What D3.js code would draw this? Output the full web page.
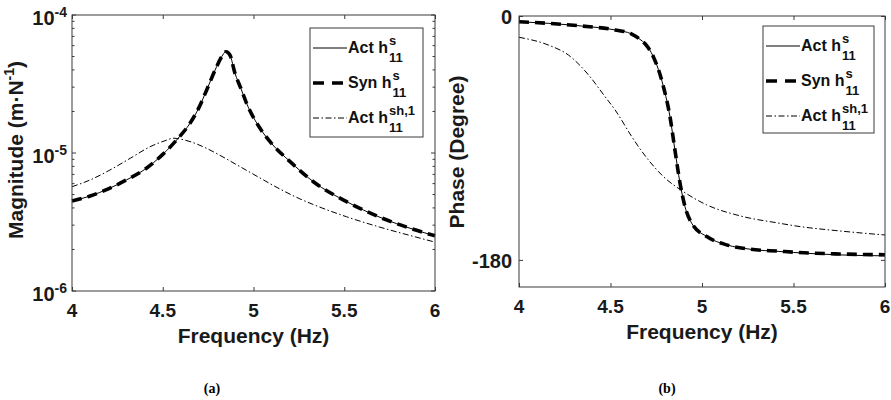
<!DOCTYPE html>
<html><head><meta charset="utf-8">
<script src="https://cdn.jsdelivr.net/npm/d3@7"></script>
<style>
html,body{margin:0;padding:0;background:#fff;}
svg{display:block;font-family:"Liberation Sans",Arial,Helvetica,sans-serif;font-weight:bold;}
</style></head>
<body>
<svg id="chart" width="891" height="400"></svg>
<script>
// ---------- DATA ----------
const xTicks = [4, 4.5, 5, 5.5, 6];
const magTicks = [1e-6, 1e-5, 1e-4];
const magTickExp = ["-6", "-5", "-4"];
const phaseTicks = [-180, 0];

const freqMagAct = [4.00,4.10,4.20,4.30,4.40,4.50,4.585,4.65,4.70,4.742,4.797,4.825,4.848,4.87,4.898,4.93,4.962,5.036,5.10,5.20,5.33,5.513,5.697,5.88,6.00];
const magAct = [4.49e-6,4.88e-6,5.5e-6,6.38e-6,7.59e-6,9.77e-6,1.28e-5,1.64e-5,2.14e-5,2.86e-5,4.23e-5,5.0e-5,5.42e-5,5.13e-5,3.78e-5,2.95e-5,2.29e-5,1.51e-5,1.17e-5,8.7e-6,6.19e-6,4.44e-6,3.42e-6,2.8e-6,2.51e-6];
const freqMagSyn = [4.00,4.10,4.20,4.30,4.40,4.50,4.585,4.65,4.70,4.742,4.797,4.825,4.848,4.87,4.898,4.93,4.962,5.036,5.10,5.20,5.33,5.513,5.697,5.88,6.00];
const magSyn = [4.49e-6,4.88e-6,5.5e-6,6.38e-6,7.59e-6,9.77e-6,1.28e-5,1.64e-5,2.14e-5,2.86e-5,4.23e-5,5.0e-5,5.42e-5,5.13e-5,3.78e-5,2.95e-5,2.29e-5,1.51e-5,1.17e-5,8.7e-6,6.19e-6,4.44e-6,3.42e-6,2.8e-6,2.51e-6];
const freqMagSh = [4.0,4.099,4.209,4.32,4.43,4.522,4.556,4.65,4.742,4.832,4.926,5.036,5.146,5.256,5.328,5.513,5.697,5.88,6.0];
const magSh = [5.70e-6,6.37e-6,7.53e-6,9.14e-6,1.11e-5,1.24e-5,1.28e-5,1.21e-5,1.08e-5,9.35e-6,7.96e-6,6.59e-6,5.48e-6,4.65e-6,4.24e-6,3.45e-6,2.90e-6,2.49e-6,2.26e-6];

const freqPhAct = [4.0,4.16,4.343,4.525,4.616,4.661,4.689,4.734,4.789,4.825,4.852,4.88,4.907,4.944,5.026,5.135,5.262,5.426,5.5,5.75,6.0];
const phAct = [-4.2,-5.4,-7.4,-10.3,-13.3,-17.2,-20.5,-30,-52,-74.3,-98.8,-123.4,-140.7,-153,-162.8,-168.9,-172.1,-173.8,-174.5,-176.3,-177];
const freqPhSyn = [4.0,4.16,4.343,4.525,4.616,4.661,4.689,4.734,4.789,4.825,4.852,4.88,4.907,4.944,5.026,5.135,5.262,5.426,5.5,5.75,6.0];
const phSyn = [-4.2,-5.4,-7.4,-10.3,-13.3,-17.2,-20.5,-30,-52,-74.3,-98.8,-123.4,-140.7,-153,-162.8,-168.9,-172.1,-173.6,-174.3,-175.6,-176.2];
const freqPhSh = [4.0,4.16,4.27,4.38,4.47,4.525,4.616,4.661,4.707,4.789,4.898,5.026,5.208,5.426,5.5,5.75,6.0];
const phSh = [-15.7,-21.4,-28.8,-43.5,-59.5,-69.3,-89,-98,-106.2,-118.5,-129.6,-139.4,-147.5,-153,-154.7,-158.6,-161.6];

const legendMain = ["Act h", "Syn h", "Act h"];
const legendSup = ["s", "s", "sh,1"];
const legendSub = ["11", "11", "11"];

// ---------- DRAW ----------
const svg = d3.select("#chart");
const axisColor = "#3a3a3a";
const styles = [
  {w:1, dash:null},
  {w:3.6, dash:"10,6"},
  {w:1, dash:"6,2.5,1.5,2.5"}
];

function zip(fs, vs){ return fs.map((f,i)=>({f, v: vs[i]})); }

function panel(opt){
  const {x, y, left, right, top, bottom} = opt;
  const g = svg.append("g");
  const line = d3.line().x(d=>x(d.f)).y(d=>y(d.v)).curve(d3.curveMonotoneX);
  opt.series.forEach((s,i)=>{
    g.append("path").datum(s).attr("d", line)
      .attr("fill","none").attr("stroke","#000")
      .attr("stroke-width", styles[i].w)
      .attr("stroke-dasharray", styles[i].dash)
      .attr("stroke-linejoin","round");
  });
  g.append("g").attr("transform",`translate(0,${bottom})`)
    .call(d3.axisBottom(x).tickValues(xTicks).tickSize(-4).tickFormat(""))
    .call(a=>a.select(".domain").remove())
    .selectAll("line").attr("stroke",axisColor);
  g.append("g").attr("transform",`translate(0,${top})`)
    .call(d3.axisTop(x).tickValues(xTicks).tickSize(-4).tickFormat(""))
    .call(a=>a.select(".domain").remove())
    .selectAll("line").attr("stroke",axisColor);
  g.selectAll(".xl").data(xTicks).enter().append("text")
    .attr("x", d=>x(d)).attr("y", bottom+26)
    .attr("text-anchor","middle").attr("font-size",19).attr("fill","#1a1a1a")
    .text(d=>d3.format("~g")(d));
  g.append("rect").attr("x",left).attr("y",top)
    .attr("width",right-left).attr("height",bottom-top)
    .attr("fill","none").attr("stroke",axisColor).attr("stroke-width",1);
  g.append("text").attr("x",(left+right)/2).attr("y",bottom+52)
    .attr("text-anchor","middle").attr("font-size",21).attr("fill","#1a1a1a")
    .text("Frequency (Hz)");
  return g;
}

function legend(g, bx, by, bw, bh){
  g.append("rect").attr("x",bx).attr("y",by).attr("width",bw).attr("height",bh)
    .attr("fill","#fff").attr("stroke",axisColor).attr("stroke-width",1);
  legendMain.forEach((t,i)=>{
    const ly = by + 20 + i*35;
    g.append("line").attr("x1",bx+3).attr("x2",bx+37).attr("y1",ly).attr("y2",ly)
      .attr("stroke","#000").attr("stroke-width",styles[i].w)
      .attr("stroke-dasharray", i===1 ? "11,8" : styles[i].dash);
    const base = ly + 5;
    const tm = g.append("text").attr("x",bx+38).attr("y",base)
      .attr("font-size",16).attr("fill","#111").text(t);
    const w = tm.node().getComputedTextLength();
    g.append("text").attr("x",bx+39+w).attr("y",base-8)
      .attr("font-size",13).attr("fill","#111").text(legendSup[i]);
    g.append("text").attr("x",bx+39+w).attr("y",base+9)
      .attr("font-size",13).attr("fill","#111").text(legendSub[i]);
  });
}

// ---- Panel (a): magnitude ----
const xa = d3.scaleLinear().domain([4,6]).range([72,435]);
const ya = d3.scaleLog().domain([1e-6,1e-4]).range([291,15]);
const ga = panel({x:xa, y:ya, left:72, right:435, top:15, bottom:291,
  series:[zip(freqMagAct,magAct), zip(freqMagSyn,magSyn), zip(freqMagSh,magSh)]});
const minorA = ya.ticks().filter(v=>!magTicks.some(m=>Math.abs(m-v)/m<1e-6));
[[72,1],[435,-1]].forEach(([xx,dir])=>{
  ga.selectAll(null).data(magTicks).enter().append("line")
    .attr("x1",xx).attr("x2",xx+dir*4).attr("y1",d=>ya(d)).attr("y2",d=>ya(d))
    .attr("stroke",axisColor);
  ga.selectAll(null).data(minorA).enter().append("line")
    .attr("x1",xx).attr("x2",xx+dir*2.5).attr("y1",d=>ya(d)).attr("y2",d=>ya(d))
    .attr("stroke",axisColor);
});
magTicks.forEach((v,i)=>{
  const t = ga.append("text").attr("x",67).attr("y",ya(v)+10)
    .attr("text-anchor","end").attr("font-size",20).attr("fill","#1a1a1a");
  t.append("tspan").text("10");
  t.append("tspan").attr("font-size",14).attr("dy",-8).text(magTickExp[i]);
});
const yta = ga.append("text").attr("transform","translate(23,150) rotate(-90)")
  .attr("text-anchor","middle").attr("font-size",21).attr("fill","#1a1a1a");
yta.append("tspan").text("Magnitude (m·N");
yta.append("tspan").attr("font-size",14).attr("dy",-9).text("-1");
yta.append("tspan").attr("dy",9).text(")");
legend(ga, 310, 28, 113, 109);

// ---- Panel (b): phase ----
const xb = d3.scaleLinear().domain([4,6]).range([519,885]);
const yb = d3.scaleLinear().domain([-200,0]).range([287,16]);
const gb = panel({x:xb, y:yb, left:519, right:885, top:16, bottom:287,
  series:[zip(freqPhAct,phAct), zip(freqPhSyn,phSyn), zip(freqPhSh,phSh)]});
gb.append("g").attr("transform","translate(519,0)")
  .call(d3.axisLeft(yb).tickValues(phaseTicks).tickSize(-4).tickFormat(""))
  .call(a=>a.select(".domain").remove())
  .selectAll("line").attr("stroke",axisColor);
gb.append("g").attr("transform","translate(885,0)")
  .call(d3.axisRight(yb).tickValues(phaseTicks).tickSize(-4).tickFormat(""))
  .call(a=>a.select(".domain").remove())
  .selectAll("line").attr("stroke",axisColor);
gb.selectAll(".yl").data(phaseTicks).enter().append("text")
  .attr("x",512).attr("y",d=>yb(d)+8)
  .attr("text-anchor","end").attr("font-size",20).attr("fill","#1a1a1a")
  .text(d=>d);
gb.append("text").attr("transform","translate(464,152) rotate(-90)")
  .attr("text-anchor","middle").attr("font-size",21).attr("fill","#1a1a1a")
  .text("Phase (Degree)");
legend(gb, 763, 26, 111, 107);

// ---- Sub captions ----
svg.append("text").attr("x",212).attr("y",393).attr("text-anchor","middle")
  .attr("font-family","'Liberation Serif','Times New Roman',serif")
  .attr("font-size",14).attr("font-weight","bold").text("(a)");
svg.append("text").attr("x",667).attr("y",393).attr("text-anchor","middle")
  .attr("font-family","'Liberation Serif','Times New Roman',serif")
  .attr("font-size",14).attr("font-weight","bold").text("(b)");
</script>
</body></html>
